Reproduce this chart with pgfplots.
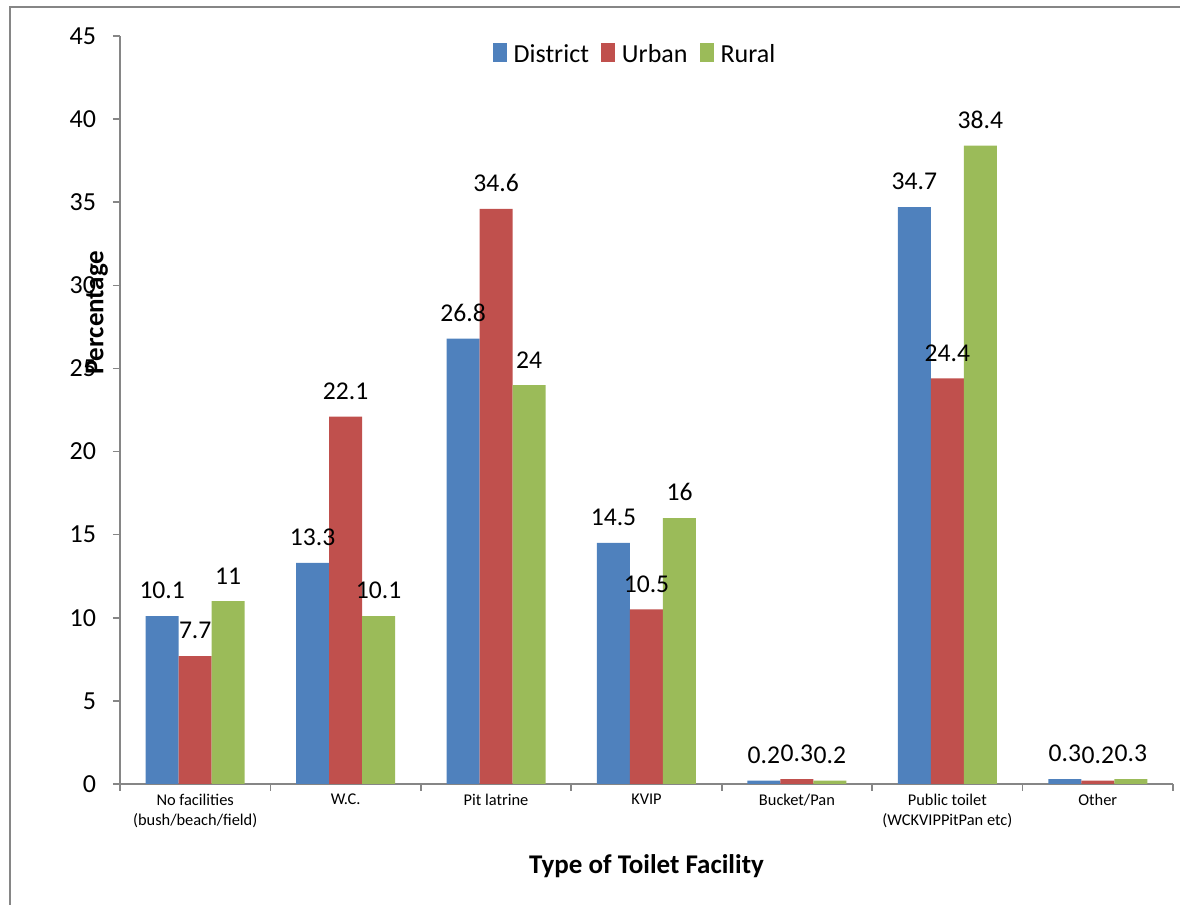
\documentclass[border=0pt]{standalone}
\usepackage{pgfplots}
\pgfplotsset{compat=1.18}
\usepackage{fontspec}
\setmainfont{Carlito}
\definecolor{cD}{HTML}{4F81BD}
\definecolor{cU}{HTML}{C0504D}
\definecolor{cR}{HTML}{9BBB59}
\definecolor{axgray}{HTML}{868686}
\pgfplotsset{sqlegend/.style={legend image code/.code={\fill[##1] (0pt,-3.5pt) rectangle (7pt,6pt);}}}
\begin{document}
\begin{tikzpicture}
\useasboundingbox (-60pt,-60.5pt) rectangle (530pt,392pt);
\draw[axgray, line width=1pt] (-55pt,-70pt) -- (-55pt,388.5pt) -- (540pt,388.5pt);
\begin{axis}[
 at={(0,0)}, anchor=south west,
 scale only axis, width=526.5pt, height=374pt,
 ybar=0pt, bar width=16.5pt,
 xmin=-0.5, xmax=6.5, ymin=0, ymax=45,
 ytick={0,5,...,45},
 xtick={-0.5,0.5,...,6.5},
 xticklabels={},
 extra x ticks={0,1,2,3,4,5,6},
 extra x tick labels={{No facilities\\(bush/beach/field)}, W.C., Pit latrine, KVIP, Bucket/Pan, {Public toilet\\(WCKVIPPitPan etc)}, Other},
 extra x tick style={major tick length=0pt, xticklabel style={align=center, font=\fontsize{8.2}{10}\selectfont, text=black, yshift=-1.5pt}},
 axis x line*=bottom, axis y line*=left,
 axis line style={axgray, line width=0.8pt, -},
 tick align=outside,
 tick style={axgray, line width=0.8pt},
 major tick length=3.5pt,
 yticklabel style={font=\fontsize{13}{15}\selectfont, xshift=-5pt},
 /pgf/number format/assume math mode=true,
 clip=false,
 nodes near coords,
 every node near coord/.append style={font=\fontsize{12.8}{15}\selectfont, text=black, yshift=5pt},
 xlabel={Type of Toilet Facility},
 xlabel style={at={(axis description cs:0.5,0)}, anchor=center, yshift=-41pt, font=\bfseries\fontsize{13.5}{15}\selectfont},
 ylabel={Percentage},
 ylabel style={at={(axis description cs:0,0.63)}, anchor=center, yshift=11.5pt, font=\bfseries\fontsize{13.5}{15}\selectfont},
 legend style={at={(0.49,0.975)}, anchor=center, draw=none, legend columns=3, font=\fontsize{13}{15}\selectfont, /tikz/every odd column/.append style={column sep=1.5pt}, /tikz/every even column/.append style={column sep=4pt}},
]
\addplot[fill=cD, draw=none, sqlegend] coordinates {(0,10.1) (1,13.3) (2,26.8) (3,14.5) (4,0.2) (5,34.7) (6,0.3)};
\addplot[fill=cU, draw=none, sqlegend] coordinates {(0,7.7) (1,22.1) (2,34.6) (3,10.5) (4,0.3) (5,24.4) (6,0.2)};
\addplot[fill=cR, draw=none, sqlegend] coordinates {(0,11) (1,10.1) (2,24) (3,16) (4,0.2) (5,38.4) (6,0.3)};
\legend{District, Urban, Rural}
\end{axis}
\end{tikzpicture}
\end{document}
